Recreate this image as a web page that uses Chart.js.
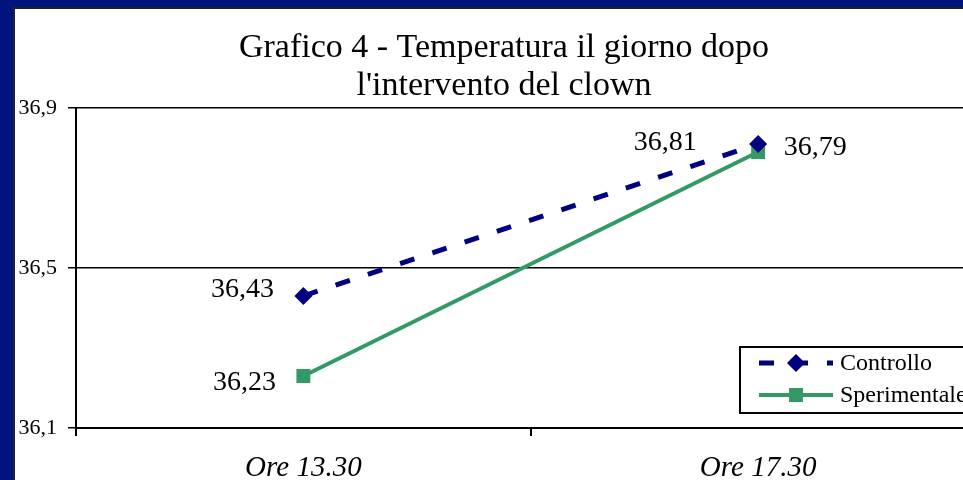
<!DOCTYPE html>
<html>
<head>
<meta charset="utf-8">
<script src="https://cdn.jsdelivr.net/npm/chart.js@4.4.0/dist/chart.umd.min.js"></script>
<style>
  html, body { margin: 0; padding: 0; background: #00137f; overflow: hidden; }
  #cornice { position: absolute; left: 13px; top: 7px; width: 1000px; height: 480px; background: #fff; border-left: 2px solid #222; border-top: 2px solid #222; overflow: hidden; }
  canvas { display: block; }
</style>
</head>
<body>
<div id="cornice"><canvas id="myChart" width="990" height="471"></canvas></div>
<script>
// dati del grafico
const categorie = ['Ore 13.30', 'Ore 17.30'];
const controllo = [36.43, 36.81];
const sperimentale = [36.23, 36.79];
const titolo = ['Grafico 4 - Temperatura il giorno dopo', "l'intervento del clown"];
const yTicks = [36.1, 36.5, 36.9];

const virgola = (v) => v.toFixed(String(v).split('.')[1] ? String(v).split('.')[1].length : 1).replace('.', ',');

Chart.defaults.font.family = "'Liberation Serif', 'Times New Roman', serif";
Chart.defaults.color = '#000';

// posizione delle etichette rispetto al punto (dx, dy)
const spostamenti = [
  [[-61, -6], [-93, -1]],
  [[-59, 7], [57, -4]],
];

const decorazioni = {
  id: 'decorazioni',
  afterDraw(chart) {
    const ctx = chart.ctx;
    ctx.save();
    // titolo
    ctx.fillStyle = '#000';
    ctx.font = "34px 'Liberation Serif'";
    ctx.textAlign = 'center';
    ctx.textBaseline = 'middle';
    ctx.fillText(titolo[0], 489, 39);
    ctx.fillText(titolo[1], 489, 77);

    // etichette dei valori
    ctx.font = "28px 'Liberation Serif'";
    chart.data.datasets.forEach((ds, i) => {
      chart.getDatasetMeta(i).data.forEach((pt, j) => {
        const s = spostamenti[i][j];
        ctx.fillText(virgola(ds.data[j]), pt.x + s[0], pt.y + s[1]);
      });
    });

    // legenda
    const lx = 725, ly = 338;
    ctx.fillStyle = '#fff';
    ctx.fillRect(lx, ly, 300, 66);
    ctx.strokeStyle = '#000';
    ctx.lineWidth = 2;
    ctx.strokeRect(lx, ly, 300, 66);
    ctx.font = "24px 'Liberation Serif'";
    ctx.textAlign = 'left';
    chart.data.datasets.forEach((ds, i) => {
      const y = ly + 16 + i * 32;
      ctx.strokeStyle = ds.borderColor;
      ctx.lineWidth = ds.borderWidth;
      ctx.setLineDash(ds.borderDash || []);
      ctx.beginPath();
      ctx.moveTo(lx + 19, y);
      ctx.lineTo(lx + 93, y);
      ctx.stroke();
      ctx.setLineDash([]);
      Chart.helpers.drawPoint(ctx, {pointStyle: ds.pointStyle, radius: ds.pointRadius, borderWidth: 1}, lx + 56, y);
      ctx.fillStyle = ds.pointBackgroundColor;
      ctx.fill();
      ctx.fillStyle = '#000';
      ctx.fillText(ds.label, lx + 100, y + 1);
    });
    ctx.restore();
  }
};

const ctx = document.getElementById('myChart');
const myChart = new Chart(ctx, {
  type: 'line',
  data: {
    labels: categorie,
    datasets: [
      {
        label: 'Controllo',
        data: controllo,
        borderColor: '#000080',
        borderWidth: 5,
        borderDash: [15, 19],
        pointStyle: 'rectRot',
        pointRadius: 5.5,
        pointBackgroundColor: '#000080',
        pointBorderColor: '#000080',
        tension: 0,
      },
      {
        label: 'Sperimentale',
        data: sperimentale,
        borderColor: '#339966',
        borderWidth: 4,
        pointStyle: 'rect',
        pointRadius: 7,
        pointBackgroundColor: '#339966',
        pointBorderColor: '#339966',
        tension: 0,
      },
    ],
  },
  options: {
    responsive: false,
    animation: false,
    devicePixelRatio: 1,
    layout: { padding: { left: 0, top: 99, right: 19.5, bottom: 0 } },
    plugins: { legend: { display: false }, title: { display: false }, tooltip: { enabled: false } },
    scales: {
      x: {
        offset: true,
        ticks: { font: { size: 29, style: 'italic' }, padding: 15 },
        grid: { offset: true, drawOnChartArea: false, tickLength: 8, color: '#000', lineWidth: 2 },
        border: { color: '#000', width: 2 },
        afterFit: (s) => { s.height = 52; },
      },
      y: {
        min: yTicks[0],
        max: yTicks[yTicks.length - 1],
        afterBuildTicks: (s) => { s.ticks = yTicks.map((v) => ({ value: v })); },
        ticks: { font: { size: 22 }, padding: 11, callback: (v) => virgola(v) },
        grid: { color: '#000', lineWidth: 1.5, tickLength: 8 },
        border: { color: '#000', width: 2 },
        afterFit: (s) => { s.width = 61; },
      },
    },
  },
  plugins: [decorazioni],
});
</script>
</body>
</html>
